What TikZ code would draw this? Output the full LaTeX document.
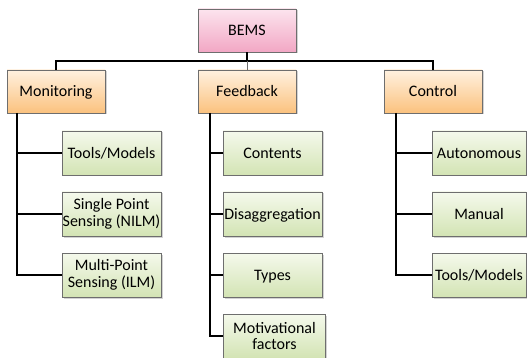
\documentclass[tikz,border=0pt]{standalone}
\usepackage{fontspec}
\setmainfont{Carlito}
\usetikzlibrary{shadows}
\definecolor{boxgray}{HTML}{6E6E6E}
\definecolor{pinktop}{HTML}{FCE4EE}
\definecolor{pinkbot}{HTML}{F2A7C4}
\definecolor{orangetop}{HTML}{FFF1E0}
\definecolor{orangebot}{HTML}{FBC27E}
\definecolor{greentop}{HTML}{F5F9EC}
\definecolor{greenbot}{HTML}{D3E4B4}
\begin{document}
\begin{tikzpicture}[x=1pt,y=-1pt,
  box/.style={draw=boxgray, line width=0.9pt, inner sep=0pt, align=center,
    font=\fontsize{16}{16.5}\selectfont,
    drop shadow={shadow xshift=1.5pt, shadow yshift=-1.5pt, opacity=0.35},
    minimum height=43pt},
  oneline/.style={text height=12pt, text depth=1.7pt},
  pinkbox/.style={box, oneline, top color=pinktop, bottom color=pinkbot, minimum width=98pt},
  orangebox/.style={box, oneline, top color=orangetop, bottom color=orangebot, minimum width=98pt},
  greenbox/.style={box, top color=greentop, bottom color=greenbot, minimum width=99pt, minimum height=44pt},
  conn/.style={draw=black, line width=1.6pt}]
\useasboundingbox (0,0) rectangle (527,358);

\node[pinkbox] (bems) at (247,30.5) {BEMS};
\node[orangebox] (mon) at (56,91.5) {Monitoring};
\node[orangebox] (fb) at (247,91.5) {Feedback};
\node[orangebox] (ctl) at (433,91.5) {Control};

\node[greenbox, oneline] (m1) at (111.5,153) {Tools/Models};
\node[greenbox] (m2) at (111.5,214) {Single Point\\Sensing (NILM)};
\node[greenbox] (m3) at (111.5,275) {Multi-Point\\Sensing (ILM)};

\node[greenbox, oneline] (f1) at (272.5,153) {Contents};
\node[greenbox, oneline] (f2) at (272.5,214) {Disaggregation};
\node[greenbox, oneline] (f3) at (272.5,275) {Types};
\node[greenbox, minimum width=102pt] (f4) at (274.5,336) {Motivational\\factors};

\node[greenbox, oneline, minimum width=94pt] (c1) at (479,153) {Autonomous};
\node[greenbox, oneline, minimum width=94pt] (c2) at (479,214) {Manual};
\node[greenbox, oneline, minimum width=94pt] (c3) at (479,275) {Tools/Models};

\coordinate (bar) at (247,61);
\draw[conn, line width=1.3pt] (bems.south) -- (bar);
\draw[conn, line width=1.3pt] (mon.north) |- (bar) -| (ctl.north);
\draw[draw=boxgray, line width=1pt] (bar) -- (fb.north);

\coordinate (mt) at (17,113);
\coordinate (ft) at (210,113);
\coordinate (ct) at (396,113);

\draw[conn] (mt) |- (m3.west);
\draw[conn] (mt |- m1.west) -- (m1.west);
\draw[conn] (mt |- m2.west) -- (m2.west);

\draw[conn] (ft) |- (f4.west);
\draw[conn] (ft |- f1.west) -- (f1.west);
\draw[conn] (ft |- f2.west) -- (f2.west);
\draw[conn] (ft |- f3.west) -- (f3.west);

\draw[conn] (ct) |- (c3.west);
\draw[conn] (ct |- c1.west) -- (c1.west);
\draw[conn] (ct |- c2.west) -- (c2.west);
\end{tikzpicture}
\end{document}
